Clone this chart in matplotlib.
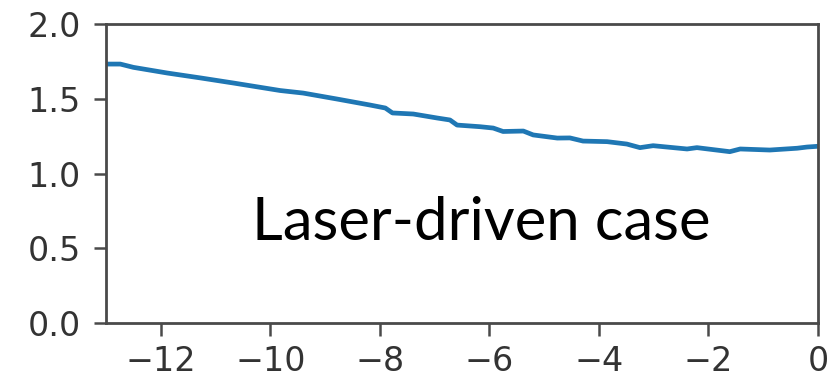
import matplotlib
matplotlib.use("Agg")
import matplotlib.pyplot as plt

# Time axis and response curve
t = [-12.98, -12.74, -12.50, -11.88, -11.27, -10.67, -9.82, -9.40, -8.78,
     -8.18, -7.90, -7.77, -7.39, -6.95, -6.72, -6.59, -6.17, -5.93, -5.75,
     -5.38, -5.20, -4.76, -4.53, -4.29, -3.85, -3.49, -3.25, -3.01, -2.39,
     -2.21, -1.61, -1.42, -0.88, -0.38, -0.20, 0.0]
y = [1.732, 1.732, 1.710, 1.672, 1.639, 1.605, 1.555, 1.538, 1.498,
     1.458, 1.438, 1.405, 1.398, 1.371, 1.358, 1.324, 1.313, 1.304, 1.281,
     1.284, 1.258, 1.237, 1.238, 1.217, 1.213, 1.197, 1.173, 1.186, 1.164,
     1.173, 1.146, 1.164, 1.157, 1.169, 1.177, 1.182]

xticks = [-12, -10, -8, -6, -4, -2, 0]
yticks = [0.0, 0.5, 1.0, 1.5, 2.0]

fig = plt.figure(figsize=(8.35, 3.78), dpi=100)
ax = fig.add_axes([0.127, 0.1455, 0.8526, 0.791])

ax.plot(t, y, color="#1f77b4", lw=3.4, solid_joinstyle="round")

ax.set_xlim(-13, 0)
ax.set_ylim(0, 2.0)
ax.set_xticks(xticks)
ax.set_xticklabels([f"\u2212{abs(v)}" if v < 0 else f"{v}" for v in xticks])
ax.set_yticks(yticks)
ax.set_yticklabels([f"{v:.1f}" for v in yticks])

spine_c = "#4a4a4a"
for s in ax.spines.values():
    s.set_color(spine_c)
    s.set_linewidth(2.0)
ax.tick_params(axis="both", colors=spine_c, labelcolor="#333333",
               labelsize=24, length=9, width=1.8)
ax.tick_params(axis="y", pad=9)
ax.tick_params(axis="x", pad=7)

ax.text(-10.33, 0.555, "Laser-driven case", fontsize=43, family="Lato",
        color="black", ha="left", va="baseline")

fig.savefig("out.png", dpi=100)
